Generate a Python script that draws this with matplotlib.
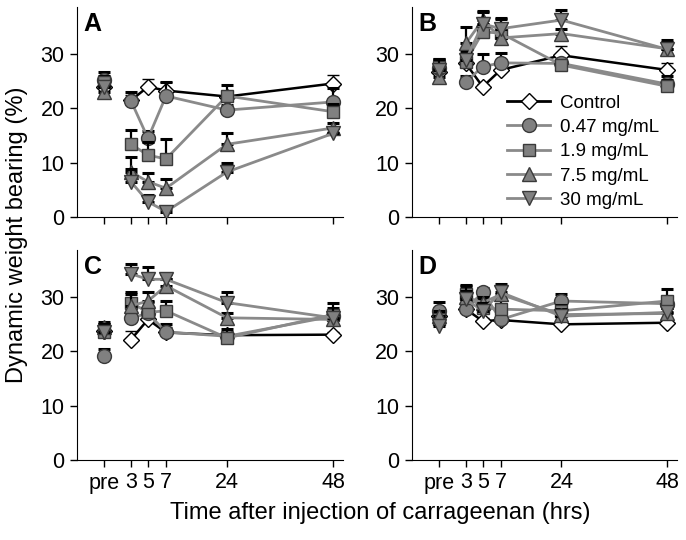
import numpy as np
import matplotlib
matplotlib.use("Agg")
import matplotlib.pyplot as plt

plt.rcParams['font.family'] = ['Liberation Sans', 'DejaVu Sans']

# time points (pre, 3, 5, 7, 24, 48 h)
time_labels = ["pre", "3", "5", "7", "24", "48"]
groups = ["Control", "0.47 mg/mL", "1.9 mg/mL", "7.5 mg/mL", "30 mg/mL"]

# panel A means / SE (rows follow groups)
a_mean = [[24.0, 21.5, 24.0, 23.3, 22.2, 24.6],
          [25.2, 21.4, 14.5, 22.3, 19.7, 21.2],
          [24.8, 13.4, 11.4, 10.7, 22.3, 19.4],
          [23.0, 8.3, 6.5, 5.3, 13.4, 16.4],
          [24.0, 6.5, 2.8, 1.0, 8.3, 15.4]]
a_se = [[1.5, 1.0, 1.4, 1.5, 1.0, 1.5],
        [1.5, 1.7, 1.4, 2.5, 1.0, 2.5],
        [1.2, 2.6, 2.5, 3.7, 2.0, 1.5],
        [1.2, 2.7, 1.6, 1.7, 2.0, 1.0],
        [1.0, 2.3, 1.3, 0.5, 1.7, 1.0]]

b_mean = [[26.8, 28.3, 24.0, 27.1, 29.8, 27.1],
          [27.5, 24.9, 27.7, 28.4, 28.3, 24.5],
          [27.7, 28.6, 34.1, 33.9, 28.0, 24.1],
          [25.8, 32.0, 36.3, 33.0, 33.8, 31.0],
          [27.1, 28.9, 35.6, 34.7, 36.3, 30.9]]
b_se = [[1.5, 1.5, 0.5, 1.0, 1.7, 1.2],
        [1.5, 1.0, 2.4, 1.8, 0.5, 1.5],
        [1.5, 1.5, 2.5, 2.5, 0.5, 1.2],
        [1.5, 3.0, 1.5, 2.5, 0.8, 1.2],
        [2.0, 1.5, 2.3, 2.0, 1.9, 1.8]]

c_mean = [[23.8, 22.2, 25.9, 23.5, 23.0, 23.1],
          [19.1, 26.2, 27.0, 23.6, 22.8, 26.5],
          [23.5, 29.0, 27.2, 27.5, 22.5, 26.8],
          [24.5, 28.4, 29.3, 32.1, 26.2, 25.9],
          [23.5, 34.3, 33.3, 33.3, 29.0, 26.2]]
c_se = [[1.0, 1.6, 1.0, 1.0, 0.5, 0.5],
        [1.3, 1.0, 1.0, 1.5, 0.8, 1.0],
        [1.5, 2.0, 2.0, 1.8, 1.6, 1.2],
        [1.0, 2.2, 1.6, 1.2, 0.8, 1.0],
        [1.5, 1.8, 2.2, 1.0, 1.9, 2.7]]

d_mean = [[26.5, 27.8, 25.6, 25.8, 25.0, 25.3],
          [27.5, 27.8, 30.9, 25.9, 29.3, 28.8],
          [25.9, 30.5, 28.0, 27.8, 27.5, 29.3],
          [26.5, 30.0, 29.0, 30.5, 26.8, 27.0],
          [24.7, 29.6, 27.5, 30.9, 26.5, 27.2]]
d_se = [[0.5, 0.5, 0.5, 0.5, 0.5, 0.5],
        [1.6, 1.0, 0.8, 1.0, 1.3, 1.2],
        [0.8, 1.5, 1.5, 2.0, 1.0, 2.2],
        [1.0, 2.3, 1.0, 1.5, 1.0, 1.0],
        [1.0, 1.5, 1.5, 1.5, 0.8, 0.8]]

# x positions on the drawn axis (uneven spacing as in the original)
xpos = np.array([0, 27, 44, 62, 123, 229])

markers = ['D', 'o', 's', '^', 'v']
msizes = [8.5, 10, 9, 10, 10]
line_cols = ['black', '#8a8a8a', '#8a8a8a', '#8a8a8a', '#8a8a8a']
face_cols = ['white', '#808080', '#808080', '#808080', '#808080']
edge_cols = ['black', '#3a3a3a', '#3a3a3a', '#3a3a3a', '#3a3a3a']

fig = plt.figure(figsize=(6.86, 5.4), dpi=100)
W, H = 686, 540
boxes = {'A': (77, 7, 343, 217), 'B': (412, 7, 677, 217),
         'C': (77, 250, 343, 460), 'D': (412, 250, 677, 460)}
data = {'A': (a_mean, a_se), 'B': (b_mean, b_se),
        'C': (c_mean, c_se), 'D': (d_mean, d_se)}

axes = {}
for key, (x0, y0, x1, y1) in boxes.items():
    ax = fig.add_axes([x0 / W, 1 - y1 / H, (x1 - x0) / W, (y1 - y0) / H])
    axes[key] = ax
    means, ses = data[key]
    for gi in range(5):
        m = np.array(means[gi])
        s = np.array(ses[gi])
        z = 3 + gi * 0.1
        ax.errorbar(xpos, m, yerr=[np.zeros_like(s), s], fmt='none',
                    ecolor='black', elinewidth=1.0 if gi == 0 else 1.6,
                    capsize=4.5, capthick=1.0 if gi == 0 else 2.2, zorder=z)
        ax.plot(xpos[1:], m[1:], color=line_cols[gi], lw=2.0 if gi else 1.8,
                zorder=z + 0.01)
        ax.plot(xpos, m, ls='none', marker=markers[gi], ms=msizes[gi],
                mfc=face_cols[gi], mec=edge_cols[gi], mew=1.0, zorder=z + 0.02)
    ax.set_xlim(-27, 239)
    ax.set_ylim(0, 38.7)
    ax.set_yticks([0, 10, 20, 30])
    ax.set_xticks(xpos)
    ax.spines['top'].set_visible(False)
    ax.spines['right'].set_visible(False)
    ax.tick_params(direction='out', length=5, width=1, labelsize=15.5, pad=4)
    if key in ('A', 'B'):
        ax.set_xticklabels([])
    else:
        ax.set_xticklabels(time_labels)
    ax.text(0.025, 0.975, key, transform=ax.transAxes, fontsize=18,
            fontweight='bold', va='top', ha='left')

# legend in panel B
axb = axes['B']
handles = []
for gi in range(5):
    h, = axb.plot([], [], color=line_cols[gi], lw=2.0, marker=markers[gi],
                  ms=msizes[gi], mfc=face_cols[gi], mec=edge_cols[gi])
    handles.append(h)
axb.legend(handles, groups, loc='upper left', bbox_to_anchor=(0.31, 0.645),
           frameon=False, fontsize=13.5, handlelength=2.3, labelspacing=0.38,
           handletextpad=0.5, borderpad=0.2)

fig.text(0.555, 0.05, "Time after injection of carrageenan (hrs)",
         ha='center', va='center', fontsize=17)
fig.text(0.025, 0.565, "Dynamic weight bearing (%)", rotation=90,
         ha='center', va='center', fontsize=17)

fig.savefig("out.png", dpi=100)
